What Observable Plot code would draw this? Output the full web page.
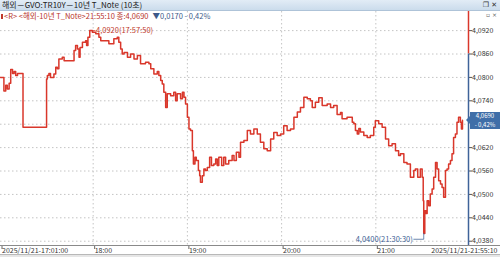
<!DOCTYPE html>
<html><head><meta charset="utf-8">
<script src="https://cdn.jsdelivr.net/npm/d3@7"></script>
<script src="https://cdn.jsdelivr.net/npm/@observablehq/plot@0.6"></script>
<style>
body{margin:0;background:#fff;}
#wrap{position:relative;width:500px;height:257px;overflow:hidden;background:#fff;font-family:"Liberation Sans Narrow","Noto Sans CJK KR",sans-serif;}
#titlebar{position:absolute;left:0;top:0;width:500px;height:10px;background:linear-gradient(#e2ecf6,#cbdcec);border-bottom:1px solid #aec3d8;font-size:8px;line-height:10px;color:#222;white-space:nowrap;}
#titlebar .t{position:absolute;left:2px;top:0;}
#titlebar .ic{position:absolute;right:3px;top:0;font-family:"DejaVu Sans",sans-serif;font-size:7px;color:#333;}
#legend{position:absolute;left:1px;top:11px;font-size:7.5px;line-height:9px;white-space:nowrap;color:#b8352b;}
#legend .blue{color:#3d5a8a;margin-left:4px;}
#legend .sq{display:inline-block;width:2px;height:5px;background:#c0392b;margin-right:1px;vertical-align:0px;}
#mini{position:absolute;right:3px;top:11px;font-family:"DejaVu Sans",sans-serif;font-size:6px;color:#666;}
#chart{position:absolute;left:0;top:10px;}
#xline{position:absolute;left:0;top:245px;width:500px;height:1px;background:#8a8a8a;}
#bottom{position:absolute;left:0;top:254px;width:500px;height:3px;background:#e6e6e6;border-top:1px solid #b8b8b8;}
#pricebg{position:absolute;left:470px;width:30px;height:17px;background:#3f6ea8;}
.pl{position:absolute;left:470px;width:30px;height:7px;line-height:7px;color:#fff;font-size:6px;text-align:center;white-space:nowrap;}
#arrow{position:absolute;left:466px;width:0;height:0;border-top:4px solid transparent;border-bottom:4px solid transparent;border-right:4px solid #3f6ea8;}
</style></head>
<body>
<div id="wrap">
  <div id="titlebar"><span class="t"></span><span class="ic">❐ ✕</span></div>
  <div id="chart"></div>
  <div id="legend"></div>
  <div id="mini">▫ ×</div>
  <div id="xline"></div>
  <div id="bottom"></div>
</div>
<script>
// ---- data ----
const sessionDate = "2025-11-21";
const titleText = "해외－GVO:TR10Y－10년 T_Note (10초)";
const seriesName = "<해외-10년 T_Note>";
const times = ["17:01:00","17:03:10","17:04:20","17:05:20","17:06:30","17:07:30","17:08:40","17:09:40","17:10:40","17:11:50",
"17:15:20","17:30:20","17:30:50","17:31:50","17:32:50","17:35:00","17:36:10","17:37:10","17:38:10","17:40:20",
"17:41:30","17:47:50","17:48:50","17:50:00","17:51:00","17:51:40","17:53:10","17:55:10","17:55:50","17:56:40",
"17:57:50","17:59:30","18:01:40","18:03:40","18:04:50","18:10:00","18:13:10","18:15:20","18:16:20","18:17:30",
"18:18:30","18:19:40","18:21:50","18:23:50","18:26:00","18:28:10","18:30:10","18:33:20","18:35:30","18:36:40",
"18:38:40","18:40:50","18:41:50","18:43:00","18:44:00","18:45:00","18:46:10","18:47:10","18:49:20","18:51:20",
"18:52:30","18:53:30","18:55:40","18:56:50","18:57:50","18:58:50","19:00:00","19:01:00","19:02:00","19:03:10",
"19:03:50","19:04:50","19:05:40","19:07:00","19:07:50","19:08:20","19:09:30","19:10:30","19:11:30","19:12:40",
"19:14:10","19:15:20","19:16:50","19:18:00","19:19:00","19:20:00","19:21:50","19:23:10","19:24:20","19:26:20",
"19:28:30","19:29:40","19:31:10","19:32:50","19:33:50","19:36:00","19:38:10","19:40:10","19:42:20","19:44:30",
"19:46:30","19:48:40","19:50:50","19:53:00","19:55:00","19:57:10","19:59:20","20:01:20","20:03:30","20:05:40",
"20:07:50","20:10:00","20:12:00","20:14:10","20:16:20","20:18:20","20:19:30","20:21:30","20:23:40","20:25:50",
"20:29:00","20:31:10","20:33:10","20:35:20","20:37:30","20:38:30","20:41:40","20:45:00","20:46:00","20:47:00",
"20:48:10","20:49:10","20:50:10","20:52:20","20:54:30","20:56:30","20:58:40","20:59:40","21:01:50","21:04:00",
"21:06:10","21:08:10","21:10:20","21:12:30","21:14:30","21:15:40","21:17:50","21:19:50","21:22:00","21:24:10",
"21:25:10","21:26:40","21:28:20","21:29:30","21:30:10","21:30:30","21:31:10","21:32:00","21:32:40","21:33:40",
"21:34:40","21:35:50","21:36:50","21:38:00","21:39:00","21:40:00","21:41:10","21:42:10","21:43:10","21:44:20",
"21:45:20","21:46:20","21:47:30","21:48:30","21:49:30","21:50:40","21:51:40","21:52:40","21:53:50","21:54:30",
"21:55:10"];
const yields = [4.0800,4.0765,4.0780,4.0770,4.0785,4.0820,4.0810,4.0815,4.0805,4.0810,
4.0672,4.0796,4.0805,4.0810,4.0800,4.0809,4.0826,4.0822,4.0847,4.0852,
4.0843,4.0869,4.0882,4.0873,4.0852,4.0877,4.0890,4.0894,4.0882,4.0903,
4.0920,4.0916,4.0912,4.0903,4.0894,4.0886,4.0899,4.0903,4.0890,4.0873,
4.0860,4.0864,4.0852,4.0860,4.0847,4.0856,4.0835,4.0839,4.0835,4.0822,
4.0809,4.0815,4.0805,4.0792,4.0783,4.0762,4.0723,4.0758,4.0753,4.0762,
4.0740,4.0758,4.0745,4.0762,4.0749,4.0732,4.0698,4.0668,4.0664,4.0612,
4.0578,4.0595,4.0587,4.0561,4.0548,4.0531,4.0548,4.0565,4.0561,4.0569,
4.0595,4.0574,4.0578,4.0591,4.0574,4.0595,4.0574,4.0595,4.0578,4.0587,
4.0600,4.0587,4.0608,4.0595,4.0634,4.0638,4.0664,4.0655,4.0668,4.0655,
4.0634,4.0617,4.0612,4.0642,4.0659,4.0651,4.0655,4.0676,4.0664,4.0668,
4.0698,4.0711,4.0723,4.0749,4.0745,4.0740,4.0723,4.0736,4.0748,4.0728,
4.0732,4.0723,4.0728,4.0705,4.0710,4.0694,4.0698,4.0685,4.0681,4.0664,
4.0655,4.0669,4.0660,4.0651,4.0646,4.0651,4.0672,4.0689,4.0681,4.0672,
4.0642,4.0625,4.0630,4.0612,4.0600,4.0604,4.0582,4.0578,4.0544,4.0561,
4.0565,4.0544,4.0565,4.0544,4.0484,4.0400,4.0458,4.0451,4.0484,4.0471,
4.0501,4.0514,4.0544,4.0582,4.0565,4.0535,4.0527,4.0518,4.0493,4.0561,
4.0565,4.0578,4.0587,4.0604,4.0646,4.0655,4.0685,4.0698,4.0685,4.0668,
4.0690];
const gridValues = [4.038,4.044,4.050,4.056,4.062,4.068,4.074,4.080,4.086,4.092];
// 4,0680 is hidden behind the current-price label in the reference
const yTickLabels = [4.038,4.044,4.050,4.056,4.062,4.074,4.080,4.086,4.092];
const hourTicks = ["18:00:00","19:00:00","20:00:00","21:00:00"];
const yDomain = [4.0369, 4.0969];
const xDomainTimes = ["17:01:00","21:59:00"];
const lastPoint = {time:"21:55:10", value:4.0690, change:-0.0170, pct:-0.42};
const prevClose = 4.0860;
const highPoint = {time:"17:57:50", value:4.0920};
const lowPoint = {time:"21:30:30", value:4.0400};

// ---- helpers ----
const parse = d3.timeParse("%Y-%m-%d %H:%M:%S");
const T = s => parse(sessionDate + " " + s);
const fmtV = v => v.toFixed(4).replace(".", ",");
const fmtDate = d3.timeFormat("%Y/%m/%d-%H:%M:%S");
const fmtHM = d3.timeFormat("%H:%M");
const data = times.map((t,i) => ({t:T(t), v:yields[i]}));
const x0 = T(xDomainTimes[0]), x1 = T(xDomainTimes[1]);
const hours = hourTicks.map(T);
const hi = {t:T(highPoint.time), v:highPoint.value};
const lo = {t:T(lowPoint.time), v:lowPoint.value};
const lastT = T(lastPoint.time);

const RED = "#d9372b", BLUE = "#3f6399", GRID = "#c4c4c4";

document.querySelector("#titlebar .t").textContent = titleText;
const lg = document.getElementById("legend");
lg.innerHTML = "";
const sq = document.createElement("span"); sq.className = "sq"; lg.appendChild(sq);
lg.appendChild(document.createTextNode(`<R> ${seriesName}${lastPoint.time} 종:${fmtV(lastPoint.value)}`));
const bl = document.createElement("span"); bl.className = "blue";
bl.textContent = `▼${fmtV(Math.abs(lastPoint.change))} - ${Math.abs(lastPoint.pct).toFixed(2).replace(".", ",")}%`;
lg.appendChild(bl);

// leader geometry for the annotations (derived from the high / low points)
const loDrop = lo.v - 0.0015;
const loLeft = d3.timeSecond.offset(lo.t, -380);
const hiRight = d3.timeSecond.offset(hi.t, 220);

const chart = Plot.plot({
  width: 500, height: 247,
  marginTop: 1, marginBottom: 12, marginLeft: 0, marginRight: 32,
  style: {fontFamily: '"Liberation Sans Narrow","Noto Sans CJK KR",sans-serif', fontSize: "7px", background: "transparent", overflow: "visible", color: "#333"},
  x: {type: "time", domain: [x0, x1]},
  y: {domain: yDomain},
  marks: [
    Plot.ruleY(gridValues, {stroke: GRID, strokeDasharray: "1.5,2.5", strokeWidth: 1}),
    Plot.ruleX(hours, {stroke: GRID, strokeDasharray: "1.5,2.5", strokeWidth: 1}),
    Plot.axisY({anchor: "right", ticks: yTickLabels, tickFormat: fmtV, tickSize: 3, tickPadding: 0.5, fill: "#333", stroke: "#555", label: null}),
    Plot.axisX({anchor: "bottom", ticks: [x0, ...hours], tickFormat: (d,i) => i === 0 ? fmtDate(d) : fmtHM(d),
      textAnchor: "start", tickSize: 4, tickPadding: -1.5, dx: 1.5, fill: "#333", stroke: "#666", label: null}),
    Plot.text([lastT], {x: d => d, frameAnchor: "bottom", text: d => fmtDate(d), textAnchor: "end", lineAnchor: "top", dx: 35, dy: 2.5, fill: "#333"}),
    Plot.ruleX([x1], {y1: prevClose, y2: yDomain[1], stroke: RED, strokeWidth: 1.5}),
    Plot.ruleX([x1], {y1: yDomain[0], y2: prevClose, stroke: BLUE, strokeWidth: 1.5}),
    Plot.line(data, {x: "t", y: "v", curve: "step-after", stroke: RED, strokeWidth: 1.5}),
    Plot.link([hi], {x1: "t", y1: "v", x2: () => hiRight, y2: "v", stroke: RED, strokeWidth: 0.8}),
    Plot.text([hi], {x: () => hiRight, y: "v", text: d => `${fmtV(d.v)}(${highPoint.time})`, textAnchor: "start", dx: 0.5, fill: "#c0392b", fontSize: 7.5}),
    Plot.line([{t: lo.t, v: lo.v}, {t: lo.t, v: loDrop}, {t: loLeft, v: loDrop}], {x: "t", y: "v", stroke: "#4a6a9a", strokeWidth: 0.8}),
    Plot.text([lo], {x: () => loLeft, y: () => loDrop, text: d => `${fmtV(d.v)}(${lowPoint.time})`, textAnchor: "end", dx: -1, fill: "#3d5f95", fontSize: 7.5})
  ]
});
document.getElementById("chart").appendChild(chart);

// current price label on the right axis, placed with the chart's y scale
const ys = chart.scale("y");
const yf = ys.apply ? (v => ys.apply(v)) : d3.scaleLinear(ys.domain, ys.range);
const py = Math.round(10 + yf(lastPoint.value));
const wrap = document.getElementById("wrap");
const arrow = document.createElement("div");
arrow.id = "arrow";
arrow.style.top = (py - 4) + "px";
wrap.appendChild(arrow);
const bg = document.createElement("div");
bg.id = "pricebg";
bg.style.top = (py - 8.5) + "px";
wrap.appendChild(bg);
const l1 = document.createElement("div"); l1.className = "pl";
l1.style.top = (py - 8) + "px";
l1.textContent = fmtV(lastPoint.value);
const l2 = document.createElement("div"); l2.className = "pl";
l2.style.top = (py + 1) + "px";
l2.textContent = `- ${Math.abs(lastPoint.pct).toFixed(2).replace(".", ",")}%`;
wrap.appendChild(l1); wrap.appendChild(l2);
</script>
</body></html>
